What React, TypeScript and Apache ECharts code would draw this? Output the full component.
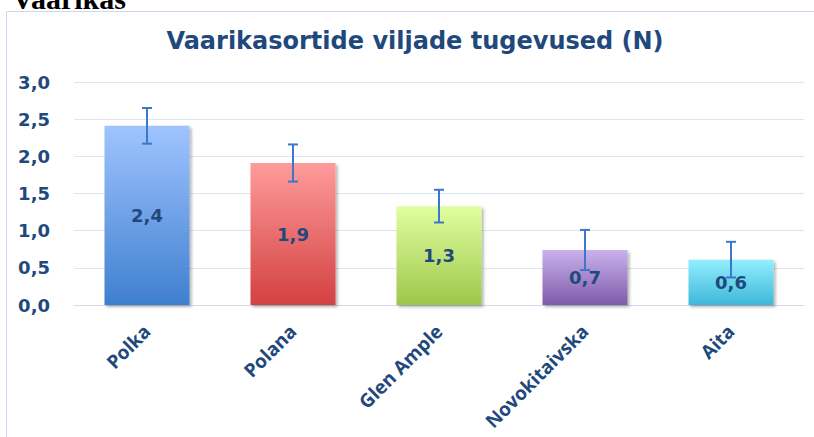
import React, { useEffect, useRef } from "react";
import * as echarts from "echarts";

const categories = ["Polka", "Polana", "Glen Ample", "Novokitaivska", "Aita"];
const strengthValues = [2.41, 1.91, 1.33, 0.74, 0.61];
const errorValues = [0.24, 0.25, 0.22, 0.27, 0.24];
const barColors: [string, string][] = [
  ["#A0C4FF", "#3F7FCF"],
  ["#FF9B9B", "#D34141"],
  ["#E0FFA0", "#9EC64A"],
  ["#C9B2EC", "#7F5BAA"],
  ["#93EEFF", "#3DB8D9"],
];

const TEXT = "#1F497D";
const fmt = (v: number) => v.toFixed(1).replace(".", ",");

export default function App() {
  const ref = useRef<HTMLDivElement>(null);
  useEffect(() => {
    document.body.style.margin = "0";
    const chart = echarts.init(ref.current!, undefined, { renderer: "svg" });
    chart.setOption({
      animation: false,
      backgroundColor: "#ffffff",
      graphic: [
        {
          type: "rect",
          shape: { x: 6.5, y: 11.5, width: 900, height: 600 },
          style: { fill: "none", stroke: "#C9DAF0", lineWidth: 1 },
          z: -10,
        },
        {
          type: "text",
          style: {
            text: "Vaarikas",
            x: 12,
            y: 13,
            font: "bold 30px 'Liberation Serif', serif",
            fill: "#000000",
            verticalAlign: "bottom",
          },
        },
        {
          type: "text",
          style: {
            text: "Vaarikasortide viljade tugevused (N)",
            x: 415,
            y: 41,
            font: "bold 24px 'DejaVu Sans', sans-serif",
            fill: TEXT,
            align: "center",
            verticalAlign: "middle",
          },
        },
      ],
      grid: { left: 74, right: 10, top: 82, bottom: 132, containLabel: false },
      xAxis: {
        type: "category",
        data: categories,
        axisLine: { lineStyle: { color: "#D0DCEB", width: 1 } },
        axisTick: { show: false },
        axisLabel: {
          interval: 0,
          rotate: 45,
          margin: 23,
          color: TEXT,
          fontFamily: "Open Sans",
          fontWeight: "bold",
          fontSize: 19,
        },
      },
      yAxis: {
        type: "value",
        min: 0,
        max: 3,
        interval: 0.5,
        axisLine: { show: false },
        axisTick: { show: false },
        splitLine: { lineStyle: { color: "#DCE6F2", width: 1 } },
        axisLabel: {
          margin: 24,
          color: TEXT,
          fontFamily: "DejaVu Sans",
          fontWeight: "bold",
          fontSize: 18,
          formatter: (v: number) => fmt(v),
        },
      },
      series: [
        {
          type: "bar",
          barWidth: 85,
          data: strengthValues.map((v, i) => ({
            value: v,
            itemStyle: {
              color: new echarts.graphic.LinearGradient(0, 0, 0, 1, [
                { offset: 0, color: barColors[i][0] },
                { offset: 1, color: barColors[i][1] },
              ]),
              shadowColor: "rgba(0,0,0,0.3)",
              shadowBlur: 3,
              shadowOffsetX: 2,
              shadowOffsetY: 2,
            },
          })),
          label: {
            show: true,
            position: "inside",
            color: TEXT,
            fontFamily: "DejaVu Sans",
            fontWeight: "bold",
            fontSize: 18,
            formatter: (p: any) => fmt(p.value),
          },
        },
        {
          type: "custom",
          z: 10,
          data: strengthValues.map((v, i) => [i, v, errorValues[i]]),
          encode: { x: 0, y: 1 },
          renderItem: (params: any, api: any) => {
            const x = api.value(0);
            const v = api.value(1);
            const e = api.value(2);
            const hi = api.coord([x, v + e]);
            const lo = api.coord([x, v - e]);
            const cap = 5;
            const style = { stroke: "#3C78C8", lineWidth: 2 };
            return {
              type: "group",
              children: [
                { type: "line", shape: { x1: hi[0], y1: hi[1], x2: lo[0], y2: lo[1] }, style },
                { type: "line", shape: { x1: hi[0] - cap, y1: hi[1], x2: hi[0] + cap, y2: hi[1] }, style },
                { type: "line", shape: { x1: lo[0] - cap, y1: lo[1], x2: lo[0] + cap, y2: lo[1] }, style },
              ],
            };
          },
        },
      ],
    });
    return () => chart.dispose();
  }, []);
  return <div ref={ref} style={{ width: 814, height: 437 }} />;
}
